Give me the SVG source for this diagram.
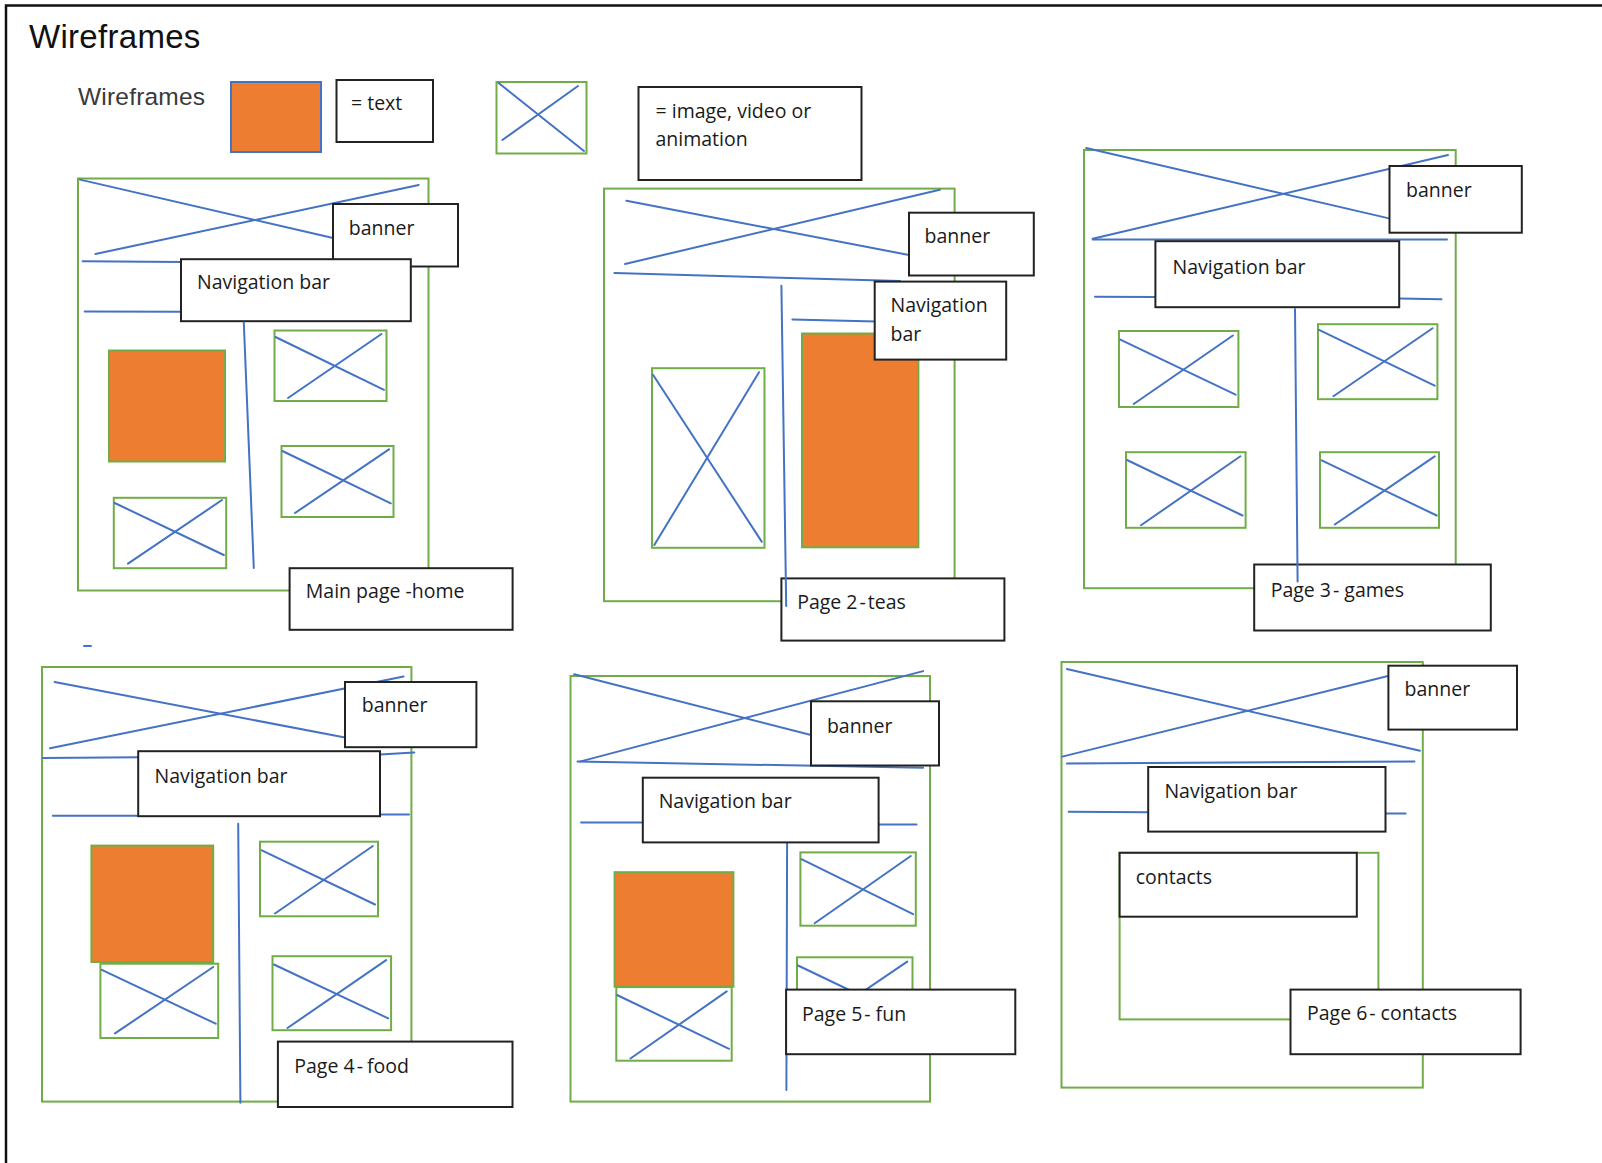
<svg xmlns="http://www.w3.org/2000/svg" width="1602" height="1163" viewBox="0 0 1602 1163">
<style>
.frame{fill:none;stroke:#70AD47;stroke-width:2}
.img{fill:#fff;stroke:#70AD47;stroke-width:2}
.ln{fill:none;stroke:#4472C4;stroke-width:2;stroke-linecap:round}
.box{fill:#fff;stroke:#222;stroke-width:2}
.org{fill:#ED7D31;stroke:#70AD47;stroke-width:2}
.t{font-family:"Open Sans","Noto Sans","DejaVu Sans",sans-serif;font-size:19.5px;fill:#1a1a1a}
</style>
<rect x="0" y="0" width="1602" height="1163" fill="#fff"/>
<g id="border">
<polyline points="6,1163 6,5.5 1602,5.5" fill="none" stroke="#111" stroke-width="2.5"/>
</g>
<g id="title">
<text x="29" y="48" font-family="Liberation Sans, Arial, sans-serif" font-size="33" letter-spacing="0.3" fill="#111">Wireframes</text>
</g>
<g id="legend">
<text x="78" y="105" font-family="Liberation Sans, Arial, sans-serif" font-size="24.5" letter-spacing="0.2" fill="#3a3a3a">Wireframes</text>
<rect x="231" y="82" width="90" height="70" fill="#ED7D31" stroke="#4472C4" stroke-width="2"/>
<rect class="box" x="336.5" y="80" width="96.5" height="62"/>
<text class="t" x="351" y="110">= text</text>
<rect class="img" x="496.5" y="82" width="90" height="71.5"/>
<line class="ln" x1="498.6" y1="83" x2="584" y2="151"/>
<line class="ln" x1="578" y1="86" x2="502.4" y2="140"/>
<rect class="box" x="638.5" y="87" width="223" height="93"/>
<text class="t" x="655.5" y="117.5">= image, video or</text>
<text class="t" x="655.5" y="146">animation</text>
</g>

<g id="page1-home">
<rect class="frame" x="78" y="178.5" width="350.5" height="412"/>
<line class="ln" x1="80" y1="179.6" x2="333" y2="238"/>
<line class="ln" x1="95.4" y1="254" x2="418.7" y2="185"/>
<line class="ln" x1="82.6" y1="261.2" x2="182" y2="262"/>
<line class="ln" x1="84.7" y1="311.4" x2="182" y2="311.8"/>
<rect class="org" x="109" y="350.5" width="116" height="111"/>
<rect class="img" x="274.5" y="330.5" width="112" height="70.5"/>
<line class="ln" x1="275.5" y1="337" x2="384" y2="389.8"/>
<line class="ln" x1="288" y1="398" x2="381.5" y2="334"/>
<rect class="img" x="281.5" y="446" width="112" height="71"/>
<line class="ln" x1="282.4" y1="451" x2="390.8" y2="503.3"/>
<line class="ln" x1="295" y1="513" x2="389" y2="449.4"/>
<rect class="img" x="113.8" y="497.8" width="112.4" height="70.4"/>
<line class="ln" x1="114.7" y1="503" x2="223.8" y2="555"/>
<line class="ln" x1="128" y1="563.7" x2="222" y2="500"/>
<rect class="box" x="333" y="204" width="125" height="62.5"/>
<text class="t" x="348.8" y="234.7">banner</text>
<rect class="box" x="181" y="259.2" width="229.8" height="62"/>
<text class="t" x="197" y="288.6">Navigation  bar</text>
<line class="ln" x1="243.8" y1="322.5" x2="253.8" y2="568"/>
<rect class="box" x="289.6" y="568.2" width="223" height="61.6"/>
<text class="t" x="305.8" y="598.4">Main page -home</text>
</g>

<g id="page2-teas">
<rect class="frame" x="604" y="188.6" width="350.6" height="412.6"/>
<line class="ln" x1="626.4" y1="200.8" x2="909" y2="255"/>
<line class="ln" x1="625" y1="264" x2="939.8" y2="189.8"/>
<line class="ln" x1="614.4" y1="273" x2="900" y2="281"/>
<line class="ln" x1="792.4" y1="319.6" x2="876" y2="321.6"/>
<rect class="img" x="652" y="368.2" width="112.5" height="179.6"/>
<line class="ln" x1="653" y1="374.7" x2="761.7" y2="541.6"/>
<line class="ln" x1="654.3" y1="545" x2="759" y2="372.2"/>
<rect class="org" x="802" y="333.5" width="116.4" height="213.8"/>
<rect class="box" x="909" y="212.7" width="124.8" height="62.8"/>
<text class="t" x="924.6" y="242.9">banner</text>
<rect class="box" x="874.7" y="281.6" width="131.5" height="78"/>
<text class="t" x="890.5" y="312.2">Navigation</text>
<text class="t" x="890.5" y="340.8">bar</text>
<rect class="box" x="781.4" y="578.4" width="223" height="62.2"/>
<text class="t" x="797.2" y="609">Page 2<tspan dx="2">-</tspan><tspan dx="2">teas</tspan></text>
<line class="ln" x1="781.4" y1="285.7" x2="786.2" y2="606"/>
</g>

<g id="page3-games">
<rect class="frame" x="1084" y="150" width="371.7" height="438.2"/>
<line class="ln" x1="1086.2" y1="148" x2="1389" y2="218.4"/>
<line class="ln" x1="1092.7" y1="238.8" x2="1448" y2="155"/>
<line class="ln" x1="1092.7" y1="239.6" x2="1447" y2="239.6"/>
<line class="ln" x1="1095" y1="296.7" x2="1156" y2="297.1"/>
<line class="ln" x1="1399" y1="298.4" x2="1441.5" y2="299.2"/>
<rect class="img" x="1119" y="331" width="119.4" height="76"/>
<line class="ln" x1="1120.3" y1="339.6" x2="1235.6" y2="394.7"/>
<line class="ln" x1="1133.7" y1="404" x2="1232.9" y2="335.5"/>
<rect class="img" x="1318" y="324.2" width="119.4" height="75"/>
<line class="ln" x1="1319" y1="329.8" x2="1434.7" y2="385.7"/>
<line class="ln" x1="1333.4" y1="396.3" x2="1432.6" y2="328.2"/>
<rect class="img" x="1126" y="452.2" width="119.6" height="75.6"/>
<line class="ln" x1="1127" y1="460" x2="1242.5" y2="515.5"/>
<line class="ln" x1="1141" y1="525.3" x2="1240.4" y2="456.3"/>
<rect class="img" x="1320" y="452.2" width="119" height="75.6"/>
<line class="ln" x1="1321.7" y1="460.4" x2="1436.7" y2="515.5"/>
<line class="ln" x1="1334.8" y1="524.5" x2="1434.7" y2="456.3"/>
<rect class="box" x="1389.5" y="166" width="132.3" height="66.7"/>
<text class="t" x="1406" y="196.7">banner</text>
<rect class="box" x="1155.4" y="241.2" width="243.8" height="66"/>
<text class="t" x="1172.6" y="273.5">Navigation  bar</text>
<rect class="box" x="1254.2" y="564.5" width="236.6" height="66"/>
<text class="t" x="1270.7" y="596.7">Page 3<tspan dx="2">-</tspan><tspan dx="5">games</tspan></text>
<line class="ln" x1="1295" y1="309" x2="1297.6" y2="581.6"/>
</g>

<g id="page4-food">
<line class="ln" x1="84" y1="646" x2="91" y2="646"/>
<rect class="frame" x="42" y="667" width="369.4" height="434.6"/>
<line class="ln" x1="54.6" y1="682" x2="345" y2="737.5"/>
<line class="ln" x1="50" y1="748.3" x2="403.6" y2="676.5"/>
<line class="ln" x1="42.9" y1="758" x2="139" y2="757.3"/>
<line class="ln" x1="380" y1="754.4" x2="414.3" y2="752.6"/>
<line class="ln" x1="52.9" y1="815.8" x2="139" y2="815.8"/>
<line class="ln" x1="380" y1="814.4" x2="409" y2="814.4"/>
<line class="ln" x1="238.2" y1="823.7" x2="240.4" y2="1102.7"/>
<rect class="img" x="100.4" y="963.7" width="117.8" height="74.3"/>
<line class="ln" x1="101.8" y1="969.8" x2="215.7" y2="1023.7"/>
<line class="ln" x1="115" y1="1033.4" x2="213.2" y2="967"/>
<rect class="org" x="91.4" y="845.6" width="121.8" height="116.4"/>
<rect class="img" x="260" y="841.7" width="118" height="74.6"/>
<line class="ln" x1="261.8" y1="850.3" x2="375" y2="904.5"/>
<line class="ln" x1="275" y1="913.5" x2="372.9" y2="846"/>
<rect class="img" x="272.5" y="956.2" width="118.6" height="74"/>
<line class="ln" x1="273.9" y1="964.5" x2="388.2" y2="1018.3"/>
<line class="ln" x1="287.5" y1="1028" x2="386.1" y2="960.1"/>
<rect class="box" x="345" y="682" width="131.4" height="65.2"/>
<text class="t" x="361.8" y="712">banner</text>
<rect class="box" x="138.2" y="751.2" width="241.8" height="65"/>
<text class="t" x="154.6" y="783.1">Navigation  bar</text>
<rect class="box" x="277.9" y="1041.6" width="234.6" height="65.4"/>
<text class="t" x="294.3" y="1073.3">Page 4<tspan dx="2">-</tspan><tspan dx="4">food</tspan></text>
</g>

<g id="page5-fun">
<rect class="frame" x="570.5" y="676" width="359.5" height="425.6"/>
<line class="ln" x1="574.2" y1="674.3" x2="811" y2="735"/>
<line class="ln" x1="579.8" y1="761.6" x2="923.1" y2="671.1"/>
<line class="ln" x1="577.5" y1="761.6" x2="923.1" y2="767.7"/>
<line class="ln" x1="581.1" y1="822.6" x2="643" y2="822.6"/>
<line class="ln" x1="878.6" y1="824.4" x2="916.5" y2="824.4"/>
<line class="ln" x1="787.1" y1="843.4" x2="786.4" y2="1090"/>
<rect class="img" x="616.3" y="987.1" width="115.4" height="73.6"/>
<line class="ln" x1="617" y1="995" x2="729" y2="1048.8"/>
<line class="ln" x1="630.5" y1="1058.5" x2="726.7" y2="991.4"/>
<rect class="org" x="614.6" y="872.2" width="118.8" height="114.5"/>
<rect class="img" x="800.4" y="852.4" width="115.4" height="73.3"/>
<line class="ln" x1="801.4" y1="859.2" x2="913.1" y2="914.2"/>
<line class="ln" x1="814.6" y1="923.2" x2="910.8" y2="856"/>
<rect class="img" x="797" y="957.3" width="115.5" height="73"/>
<line class="ln" x1="798" y1="965.5" x2="910" y2="1019"/>
<line class="ln" x1="811" y1="1027" x2="907.2" y2="961.6"/>
<rect class="box" x="811" y="701.3" width="128" height="64.2"/>
<text class="t" x="826.9" y="732.9">banner</text>
<rect class="box" x="642.8" y="777.7" width="235.8" height="64.7"/>
<text class="t" x="658.7" y="807.5">Navigation  bar</text>
<rect class="box" x="786.1" y="989.6" width="229.2" height="64.6"/>
<text class="t" x="802" y="1020.8">Page 5<tspan dx="2">-</tspan><tspan dx="5">fun</tspan></text>
</g>

<g id="page6-contacts">
<rect class="frame" x="1061.5" y="662" width="361.3" height="425.6"/>
<line class="ln" x1="1066.9" y1="669" x2="1419.9" y2="750.8"/>
<line class="ln" x1="1062.2" y1="756.6" x2="1389" y2="675.8"/>
<line class="ln" x1="1066.9" y1="763.4" x2="1414.5" y2="761.6"/>
<line class="ln" x1="1068.7" y1="811.8" x2="1149" y2="812.2"/>
<line class="ln" x1="1385.5" y1="813.6" x2="1405.6" y2="813.6"/>
<rect class="frame" x="1119.6" y="852.8" width="258.8" height="166.6"/>
<rect class="box" x="1388.4" y="665.7" width="128.6" height="63.9"/>
<text class="t" x="1404.5" y="696.2">banner</text>
<rect class="box" x="1148.2" y="767" width="237.3" height="64.6"/>
<text class="t" x="1164.4" y="797.5">Navigation  bar</text>
<rect class="box" x="1119.6" y="852.8" width="237.2" height="63.9"/>
<text class="t" x="1135.7" y="883.7">contacts</text>
<rect class="box" x="1290.5" y="989.6" width="230.1" height="64.6"/>
<text class="t" x="1307" y="1020.1">Page 6<tspan dx="2">-</tspan><tspan dx="5">contacts</tspan></text>
</g>
<g id="connectors"></g>
</svg>
